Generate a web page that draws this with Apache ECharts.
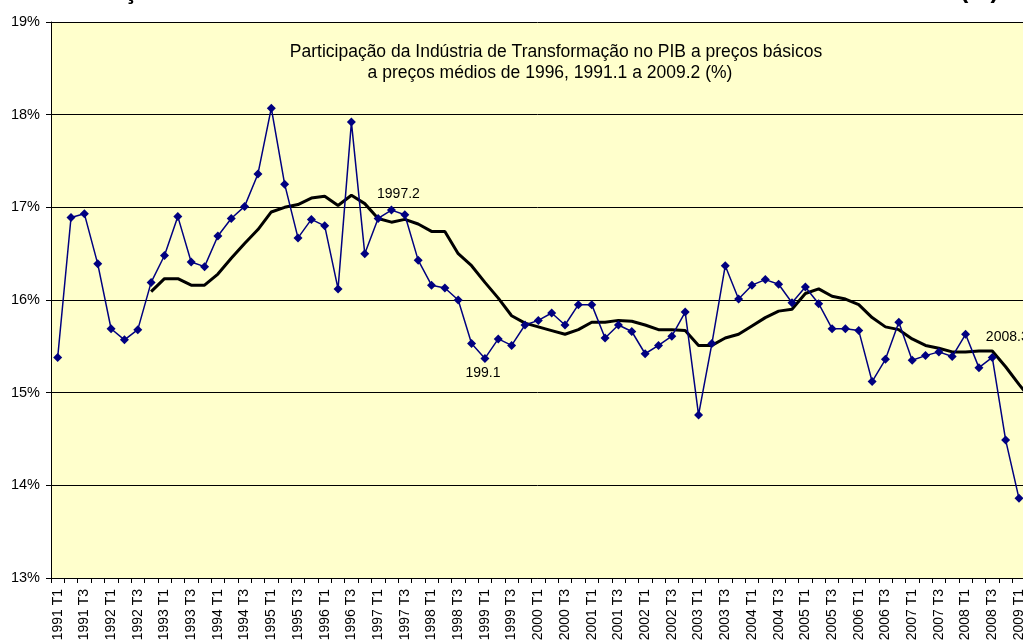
<!DOCTYPE html>
<html>
<head>
<meta charset="utf-8">
<script src="https://cdn.jsdelivr.net/npm/echarts@6/dist/echarts.min.js"></script>
<style>
    html, body { margin: 0; padding: 0; background: #fff; }
    #chartContent { width: 1023px; height: 641px; }
</style>
</head>
<body>
<div id="chartContent"></div>
<script>
// trimestres 1991 T1 .. 2009 T2
const years = [1991, 1992, 1993, 1994, 1995, 1996, 1997, 1998, 1999, 2000, 2001, 2002, 2003, 2004, 2005, 2006, 2007, 2008, 2009]
const quarters = []
years.forEach(function (y) {
    ['T1', 'T2', 'T3', 'T4'].forEach(function (q) { quarters.push(y + ' ' + q) })
})
quarters.length = 74

// participação trimestral (%)
const share = [
    15.38, 16.89, 16.93, 16.39, 15.69, 15.57, 15.68, 16.19,
    16.48, 16.90, 16.41, 16.36, 16.69, 16.88, 17.01, 17.36,
    18.07, 17.25, 16.67, 16.87, 16.80, 16.12, 17.92, 16.50,
    16.88, 16.97, 16.92, 16.43, 16.16, 16.13, 16.00, 15.53,
    15.37, 15.58, 15.51, 15.73, 15.78, 15.86, 15.73, 15.95,
    15.95, 15.59, 15.73, 15.66, 15.42, 15.51, 15.61, 15.87,
    14.76, 15.53, 16.37, 16.01, 16.16, 16.22, 16.17, 15.97,
    16.14, 15.96, 15.69, 15.69, 15.67, 15.12, 15.36, 15.76,
    15.35, 15.40, 15.44, 15.39, 15.63, 15.27, 15.38, 14.49,
    13.86, null
]

// média móvel de 4 trimestres
const movingAvg = [
    null, null, null, null, null, null, null, 16.09,
    16.23, 16.23, 16.16, 16.16, 16.28, 16.45, 16.61, 16.76,
    16.95, 17.00, 17.03, 17.10, 17.12, 17.02, 17.13, 17.04,
    16.88, 16.84, 16.87, 16.82, 16.74, 16.74, 16.50, 16.37,
    16.19, 16.02, 15.83, 15.75, 15.71, 15.67, 15.63, 15.68,
    15.76, 15.76, 15.78, 15.77, 15.73, 15.68, 15.68, 15.67,
    15.51, 15.51, 15.59, 15.63, 15.72, 15.81, 15.88, 15.90,
    16.07, 16.12, 16.04, 16.01, 15.95, 15.81, 15.71, 15.68,
    15.58, 15.51, 15.48, 15.44, 15.44, 15.45, 15.45, 15.28,
    15.09, 14.91
]

// rótulos de pontos marcados
const notes = [
    { index: 25, text: '1997.2', offset: [7, -16] },
    { index: 32, text: '199.1', offset: [-2, 15] },
    { index: 70, text: '2008.3', offset: [15, -20] }
]

const font = 'Liberation Sans, Arial, sans-serif'

const shareData = share.map(function (v, i) {
    const n = notes.find(function (item) { return item.index === i })
    if (!n) return v
    return {
        value: v,
        label: {
            show: true, position: 'inside', offset: n.offset,
            formatter: n.text, color: '#000', fontSize: 14, fontFamily: font
        }
    }
})

const myChart = echarts.init(document.getElementById('chartContent'), null, { renderer: 'canvas' })

var option = {
    animation: false,
    backgroundColor: '#fff',
    textStyle: { fontFamily: font },
    graphic: [
        {
            type: 'text', x: 556, y: 52,
            style: {
                text: 'Participação da Indústria de Transformação no PIB a preços básicos',
                textAlign: 'center', verticalAlign: 'middle', fill: '#000', font: '17.5px ' + font
            }
        },
        {
            type: 'text', x: 550, y: 73,
            style: {
                text: 'a preços médios de 1996, 1991.1 a 2009.2 (%)',
                textAlign: 'center', verticalAlign: 'middle', fill: '#000', font: '17.5px ' + font
            }
        },
        // restos do título cortado no topo
        { type: 'text', x: 124, y: 4, style: { text: 'ç', verticalAlign: 'bottom', fill: '#000', font: 'bold 24px ' + font } },
        { type: 'text', x: 960, y: 4, style: { text: '(%)', verticalAlign: 'bottom', fill: '#000', font: 'bold 25px ' + font } }
    ],
    grid: {
        left: 51,
        right: -16,
        top: 22,
        bottom: 63,
        outerBoundsMode: 'none',
        show: true,
        backgroundColor: '#FFFFCC',
        borderWidth: 0
    },
    xAxis: {
        type: 'category',
        data: quarters,
        boundaryGap: true,
        axisLine: { lineStyle: { color: '#000', width: 1 } },
        axisTick: { show: true, interval: 0, length: 5, lineStyle: { color: '#000' } },
        axisLabel: { interval: 1, rotate: 90, margin: 11, color: '#000', fontSize: 14, fontFamily: font },
        splitLine: { show: false }
    },
    yAxis: {
        type: 'value',
        min: 13,
        max: 19,
        interval: 1,
        axisLine: { show: true, lineStyle: { color: '#000', width: 1 } },
        axisTick: { show: true, length: 5, lineStyle: { color: '#000' } },
        axisLabel: { formatter: '{value}%', margin: 11, color: '#000', fontSize: 14.5, fontFamily: font },
        splitLine: { show: true, lineStyle: { color: '#000', width: 1 } }
    },
    series: [
        {
            name: 'Participação',
            type: 'line',
            data: shareData,
            symbol: 'diamond',
            symbolSize: 9,
            showAllSymbol: true,
            itemStyle: { color: '#000080' },
            lineStyle: { color: '#000080', width: 1.5 },
            z: 3
        },
        {
            name: 'Média móvel',
            type: 'line',
            data: movingAvg,
            symbol: 'none',
            lineStyle: { color: '#000', width: 3 },
            z: 2
        }
    ]
}
myChart.setOption(option)
</script>
</body>
</html>
